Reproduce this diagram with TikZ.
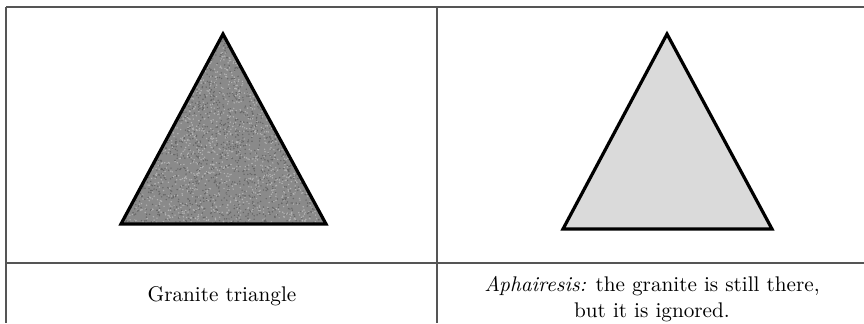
\documentclass[tikz,border=0pt]{standalone}
\usepackage{tikz}
\usetikzlibrary{positioning, calc}
\definecolor{ruleink}{HTML}{555555}
\definecolor{granite}{HTML}{8A8A8A}
\definecolor{speckdark}{HTML}{666666}
\definecolor{speckpale}{HTML}{B4B4B4}
\definecolor{ghostfill}{HTML}{DADADA}

\begin{document}
\begin{tikzpicture}[
  x=0.5pt, y=0.5pt,
  line cap=butt, line join=miter,
  rulel/.style   = {draw=ruleink, line width=0.6pt},
  tri/.style     = {draw=black, line width=1.6pt, line join=miter},
  caption/.style = {font=\fontsize{10.6}{12.6}\selectfont, align=center, inner sep=0pt}
]
\useasboundingbox (0,0) rectangle (864,323);

% table rules
\coordinate (tl) at (6,316);
\coordinate (tr) at (864,316);
\coordinate (ml) at (6,60);
\coordinate (mr) at (864,60);
\coordinate (dt) at (437,316);
\coordinate (db) at (437,0);
\coordinate (lb) at (6,0);
\draw[rulel] (tl) -- (tr);
\draw[rulel] (ml) -- (mr);
\draw[rulel] (tl) -- (lb);
\draw[rulel] (dt) -- (db);

% granite triangle
\coordinate (ga) at (223,289);
\coordinate (gl) at (121,99);
\coordinate (gr) at (326,99);
\begin{scope}
  \clip (ga) -- (gl) -- (gr) -- cycle;
  \fill[granite] (gl) rectangle (326,289);
  \pgfmathsetseed{4711}
  \foreach \i in {1,...,2200} {
    \pgfmathsetmacro{\px}{121+205*rnd}
    \pgfmathsetmacro{\py}{99+190*rnd}
    \fill[speckpale] (\px,\py) circle (0.8);
    \pgfmathsetmacro{\qx}{121+205*rnd}
    \pgfmathsetmacro{\qy}{99+190*rnd}
    \fill[speckdark] (\qx,\qy) circle (0.8);
  }
\end{scope}
\draw[tri] (ga) -- (gl) -- (gr) -- cycle;

% aphairesis triangle
\coordinate (aa) at (667,289);
\coordinate (al) at (563,94);
\coordinate (ar) at (772,94);
\draw[tri, fill=ghostfill] (aa) -- (al) -- (ar) -- cycle;

% captions
\node[caption] (capg) at (222,27) {Granite triangle};
\node[caption] (capa) at (652,24) {\textit{Aphairesis:} the granite is still there,\\but it is ignored.};

\end{tikzpicture}
\end{document}
